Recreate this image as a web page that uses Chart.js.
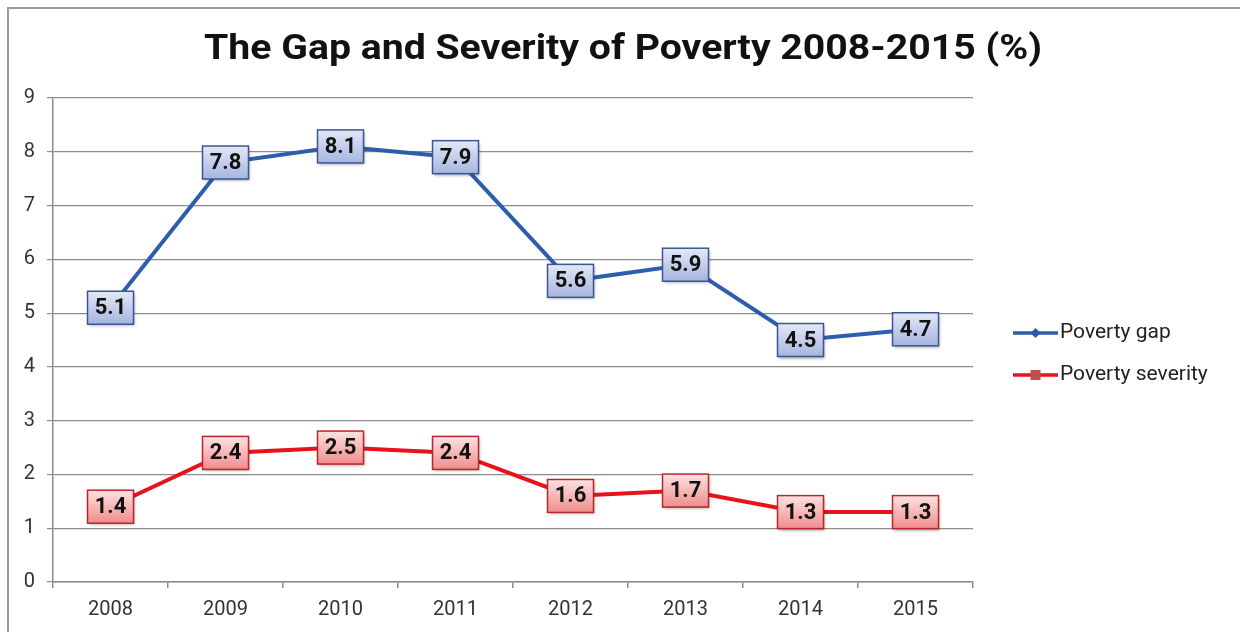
<!DOCTYPE html>
<html>
<head>
<meta charset="utf-8">
<script src="https://cdn.jsdelivr.net/npm/chart.js@4/dist/chart.umd.min.js"></script>
<style>
  html, body { margin: 0; padding: 0; background: #fff; }
  #wrap { position: relative; width: 1240px; height: 632px; overflow: hidden; }
  #frame { position: absolute; left: 7px; top: 7px; width: 1300px; height: 700px;
           border-left: 2px solid #9a9a9a; border-top: 2px solid #9a9a9a; box-sizing: border-box; }
  #title { position: absolute; left: 0; top: 24px; width: 1246px; text-align: center;
           font-family: Roboto, "Liberation Sans", sans-serif; font-weight: 700; font-size: 35px;
           color: #111; line-height: 48px; transform: scaleX(1.12); transform-origin: 623px 0; }
  canvas { position: absolute; left: 0; top: 0; }
</style>
</head>
<body>
<div id="wrap">
  <div id="frame"></div>
  <canvas id="c" width="1240" height="632"></canvas>
  <div id="title">The Gap and Severity of Poverty 2008-2015 (%)</div>
</div>
<script>
const years = ['2008', '2009', '2010', '2011', '2012', '2013', '2014', '2015'];
const povertyGap = [5.1, 7.8, 8.1, 7.9, 5.6, 5.9, 4.5, 4.7];
const povertySeverity = [1.4, 2.4, 2.5, 2.4, 1.6, 1.7, 1.3, 1.3];
const seriesNames = ['Poverty gap', 'Poverty severity'];

const FONT = 'Roboto, "Liberation Sans", sans-serif';

// Boxed value labels centred on each point
const valueBoxes = {
  id: 'valueBoxes',
  afterDatasetsDraw(chart) {
    const ctx = chart.ctx;
    chart.data.datasets.forEach((ds, di) => {
      const meta = chart.getDatasetMeta(di);
      const st = ds.boxStyle;
      meta.data.forEach((pt, i) => {
        const w = 46, h = 33;
        const x = pt.x - w / 2, y = pt.y - h / 2;
        ctx.save();
        ctx.shadowColor = 'rgba(0,0,0,0.35)';
        ctx.shadowBlur = 3;
        ctx.shadowOffsetX = 1;
        ctx.shadowOffsetY = 2;
        const g = ctx.createLinearGradient(x, y, x, y + h);
        g.addColorStop(0, st.top);
        g.addColorStop(1, st.bottom);
        ctx.fillStyle = g;
        ctx.fillRect(x, y, w, h);
        ctx.shadowColor = 'transparent';
        ctx.strokeStyle = st.border;
        ctx.lineWidth = 1.5;
        ctx.strokeRect(x, y, w, h);
        ctx.fillStyle = '#111';
        ctx.font = 'bold 22px ' + FONT;
        ctx.textAlign = 'center';
        ctx.textBaseline = 'middle';
        ctx.fillText(ds.data[i].toFixed(1), pt.x, pt.y + 1);
        ctx.restore();
      });
    });
  }
};

// Legend at the right: line sample with marker, then the series name
const sideLegend = {
  id: 'sideLegend',
  afterDraw(chart) {
    const ctx = chart.ctx;
    const x0 = 1013, x1 = 1058, ys = [333, 375];
    chart.data.datasets.forEach((ds, di) => {
      const y = ys[di];
      ctx.save();
      ctx.strokeStyle = ds.borderColor;
      ctx.lineWidth = 3.5;
      ctx.beginPath();
      ctx.moveTo(x0, y);
      ctx.lineTo(x1, y);
      ctx.stroke();
      const cx = (x0 + x1) / 2;
      if (di === 0) {
        ctx.fillStyle = '#2a5caa';
        ctx.beginPath();
        ctx.moveTo(cx, y - 5);
        ctx.lineTo(cx + 5, y);
        ctx.lineTo(cx, y + 5);
        ctx.lineTo(cx - 5, y);
        ctx.closePath();
        ctx.fill();
      } else {
        ctx.fillStyle = '#c0504d';
        ctx.fillRect(cx - 5, y - 5, 10, 10);
      }
      ctx.fillStyle = '#222';
      ctx.font = '21px ' + FONT;
      ctx.textAlign = 'left';
      ctx.textBaseline = 'middle';
      ctx.fillText(ds.label, x1 + 2, y);
      ctx.restore();
    });
  }
};

new Chart(document.getElementById('c'), {
  type: 'line',
  data: {
    labels: years,
    datasets: [
      {
        label: seriesNames[0],
        data: povertyGap,
        borderColor: '#2d5eab',
        borderWidth: 4,
        pointRadius: 0,
        tension: 0,
        boxStyle: { top: '#e4e8f7', bottom: '#a6b5df', border: '#3b5696' }
      },
      {
        label: seriesNames[1],
        data: povertySeverity,
        borderColor: '#e8121b',
        borderWidth: 4,
        pointRadius: 0,
        tension: 0,
        boxStyle: { top: '#fde2e2', bottom: '#f08c8c', border: '#b8262b' }
      }
    ]
  },
  options: {
    responsive: false,
    animation: false,
    layout: { padding: { left: 0, right: 267, top: 98, bottom: 0 } },
    plugins: {
      legend: { display: false },
      title: { display: false },
      tooltip: { enabled: false }
    },
    scales: {
      x: {
        offset: true,
        afterFit(scale) { scale.height = 50; },
        border: { display: true, color: '#8c8c8c', width: 1.5 },
        grid: { offset: true, drawOnChartArea: false, drawTicks: true, tickLength: 6, color: '#8c8c8c', lineWidth: 1.5 },
        ticks: { color: '#333', font: { family: FONT, size: 20 }, padding: 10, maxRotation: 0 }
      },
      y: {
        min: 0,
        max: 9,
        afterFit(scale) { scale.width = 53; },
        border: { display: true, color: '#8c8c8c', width: 1.5 },
        grid: { color: '#8c8c8c', lineWidth: 1.2, tickLength: 6 },
        ticks: { stepSize: 1, color: '#333', font: { family: FONT, size: 20 }, padding: 12 }
      }
    }
  },
  plugins: [valueBoxes, sideLegend]
});
</script>
</body>
</html>
